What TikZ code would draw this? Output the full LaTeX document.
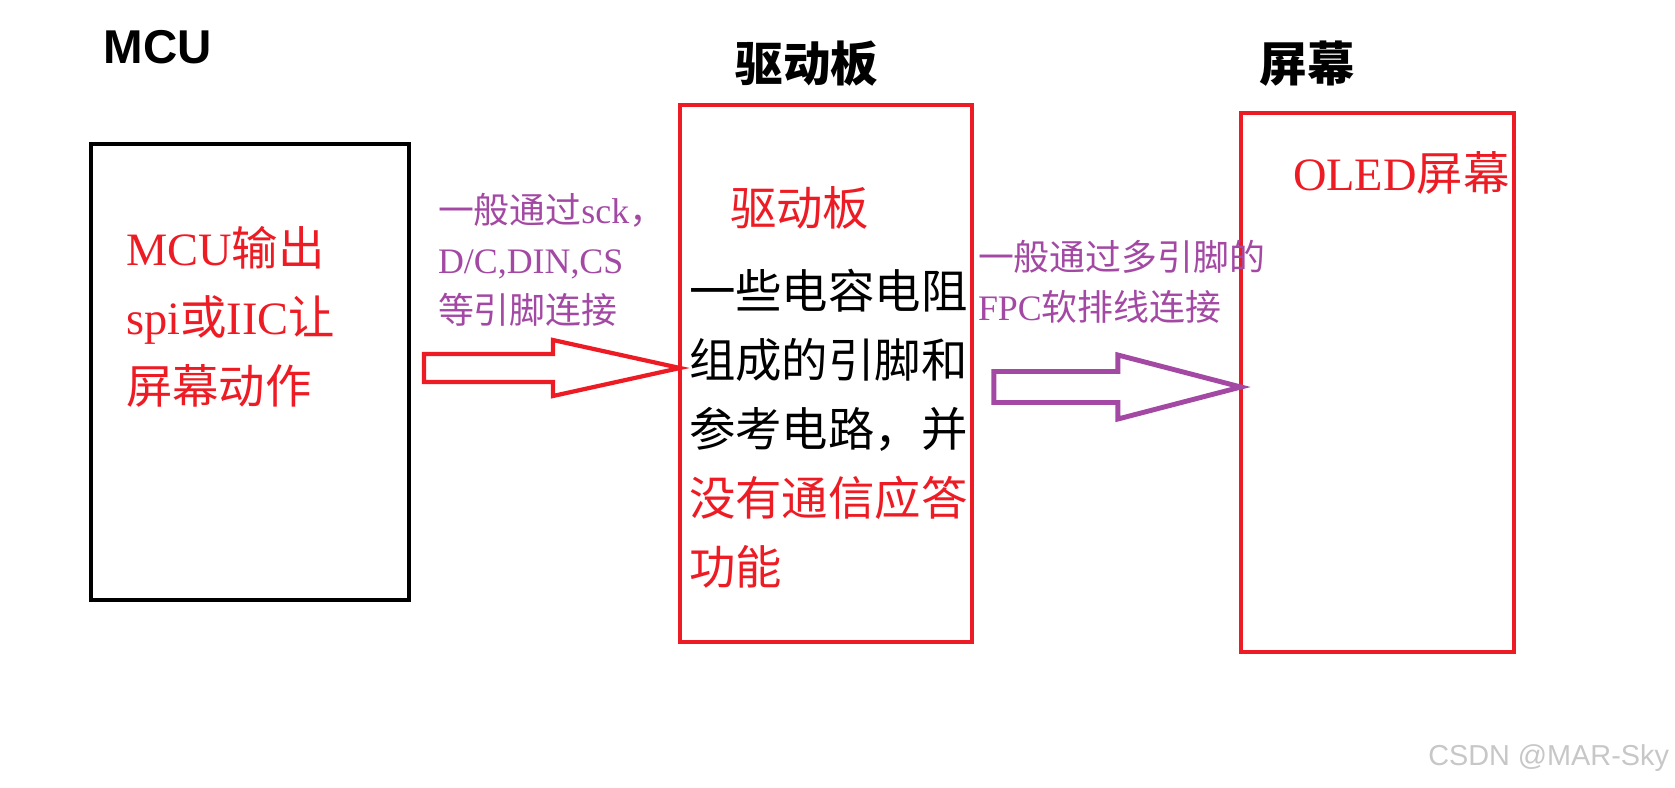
\documentclass[tikz,border=0pt]{standalone}
\usepackage{fontspec}
\setmainfont{Noto Sans CJK SC}
\newfontfamily\lat{Liberation Serif}
\newfontfamily\headlat{Liberation Sans}
\definecolor{oledred}{RGB}{237,28,36}
\definecolor{linkpurple}{RGB}{163,73,164}
\begin{document}
\begin{tikzpicture}[x=0.01cm, y=-0.01cm,
  every node/.style={inner sep=0pt, outer sep=0pt},
  headtxt/.style={font=\fontsize{13.5pt}{16pt}\selectfont\bfseries},
  bodytxt/.style={font=\fontsize{13.2pt}{19.6pt}\selectfont, align=left},
  linktxt/.style={font=\fontsize{10.2pt}{14.2pt}\selectfont, align=left, text=linkpurple},
  blockbox/.style={draw, line width=1.2pt},
  redarrow/.style={draw=oledred, line width=1.2pt, line join=miter},
  purplearrow/.style={draw=linkpurple, line width=1.4pt, line join=miter}]
  % Rahmen: 1675 x 787 px
  \useasboundingbox (0,0) rectangle (1675,787);

  % ---- Überschriften ----
  \node[headtxt] (hmcu) at (158,47) {\headlat MCU};
  \node[headtxt] (hdrv) at (807,64) {驱动板};
  \node[headtxt] (hscr) at (1307,64) {屏幕};

  % ---- Kästen ----
  \node[blockbox, draw=black, minimum width=3.18cm, minimum height=4.56cm] (mcu) at (250,372) {};
  \node[blockbox, draw=oledred, minimum width=2.92cm, minimum height=5.37cm] (drv) at (826,373.5) {};
  \node[blockbox, draw=oledred, minimum width=2.73cm, minimum height=5.39cm] (scr) at (1377.5,382.5) {};

  % ---- Texte in den Kästen ----
  \node[bodytxt, text=oledred, anchor=west] (mcutxt) at (126,317)
    {{\lat MCU}输出\\{\lat spi}或{\lat IIC}让\\屏幕动作};
  \node[bodytxt, text=oledred, anchor=west] (drvtitle) at (730,208) {驱动板};
  \node[bodytxt, anchor=west] (drvtxt) at (689,428.5)
    {一些电容电阻\\组成的引脚和\\参考电路，并\\\textcolor{oledred}{没有通信应答}\\\textcolor{oledred}{功能}};
  \node[bodytxt, text=oledred, anchor=west] (scrtxt) at (1293,173) {{\lat OLED}屏幕};

  % ---- Verbindungen ----
  \coordinate (t1) at ([yshift=0.055cm]drv.west);
  \draw[redarrow, shift={(t1)}] (-256,-14) -- (-127,-14) -- (-127,-28) -- (0,0)
    -- (-127,28) -- (-127,14) -- (-256,14) -- cycle;
  \node[linktxt, anchor=west] (link1) at (438,260)
    {一般通过{\lat sck}，\\{\lat D/C,DIN,CS}\\等引脚连接};

  \coordinate (t2) at ([yshift=-0.045cm]scr.west);
  \draw[purplearrow, shift={(t2)}] (-247,-15.5) -- (-123,-15.5) -- (-123,-32) -- (0,0)
    -- (-123,32) -- (-123,15.5) -- (-247,15.5) -- cycle;
  \node[linktxt, anchor=west] (link2) at (978,281.5)
    {一般通过多引脚的\\{\lat FPC}软排线连接};

  % Wasserzeichen
  \node[anchor=east, font=\fontsize{8.2pt}{10pt}\selectfont\headlat, text=black!22] (wm) at (1669,758) {CSDN @MAR-Sky};
\end{tikzpicture}
\end{document}
